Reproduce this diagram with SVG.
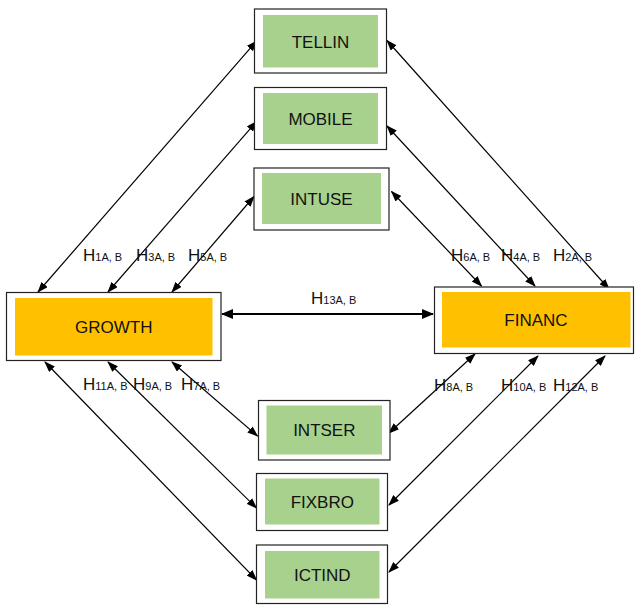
<svg xmlns="http://www.w3.org/2000/svg" width="635" height="605" viewBox="0 0 635 605">
<style>
.outer{fill:#fff;stroke:#222;stroke-width:1.2}
.green{fill:#A9D18E}
.orange{fill:#FFC000}
.nt{font-family:"Liberation Sans",Arial,sans-serif;font-size:17px;fill:#111;text-anchor:middle}
.lb{font-family:"Liberation Sans",Arial,sans-serif;font-size:17px;fill:#111}
.sb{font-size:11px}
.c{stroke:#000;stroke-width:1.2;fill:none;marker-start:url(#a);marker-end:url(#a)}
.c2{stroke:#000;stroke-width:2.2;fill:none;marker-start:url(#a2);marker-end:url(#a2)}
</style>
<defs>
<marker id="a" markerWidth="11" markerHeight="8" refX="10" refY="4" orient="auto-start-reverse" markerUnits="userSpaceOnUse"><path d="M0,0 L11,4 L0,8 Z" fill="#000"/></marker>
<marker id="a2" markerWidth="12" markerHeight="10" refX="11" refY="5" orient="auto-start-reverse" markerUnits="userSpaceOnUse"><path d="M0,0 L12,5 L0,10 Z" fill="#000"/></marker>
</defs>
<rect width="635" height="605" fill="#fff"/>
<g id="connectors">
<line class="c" x1="38" y1="292" x2="256.5" y2="41"/>
<line class="c" x1="108" y1="292" x2="256.5" y2="121.5"/>
<line class="c" x1="172" y1="292" x2="254" y2="196.5"/>
<line class="c" x1="481.5" y1="286" x2="391.5" y2="191.5"/>
<line class="c" x1="535" y1="286" x2="387" y2="126"/>
<line class="c" x1="609" y1="289" x2="387" y2="40.5"/>
<line class="c" x1="45" y1="362" x2="256.5" y2="580"/>
<line class="c" x1="108" y1="362" x2="256.5" y2="508"/>
<line class="c" x1="172" y1="362" x2="257.5" y2="436"/>
<line class="c" x1="475" y1="354" x2="389" y2="433"/>
<line class="c" x1="538" y1="356" x2="389" y2="505"/>
<line class="c" x1="605" y1="356" x2="389" y2="572"/>
<line class="c2" x1="222" y1="314" x2="433" y2="314"/>
</g>
<g id="labels">
<text class="lb" x="83" y="261">H<tspan class="sb">1A, B</tspan></text>
<text class="lb" x="136" y="261">H<tspan class="sb">3A, B</tspan></text>
<text class="lb" x="188" y="261">H<tspan class="sb">5A, B</tspan></text>
<text class="lb" x="451" y="261">H<tspan class="sb">6A, B</tspan></text>
<text class="lb" x="501" y="261">H<tspan class="sb">4A, B</tspan></text>
<text class="lb" x="553" y="261">H<tspan class="sb">2A, B</tspan></text>
<text class="lb" x="83" y="390">H<tspan class="sb">11A, B</tspan></text>
<text class="lb" x="133" y="390">H<tspan class="sb">9A, B</tspan></text>
<text class="lb" x="181" y="390">H<tspan class="sb">7A, B</tspan></text>
<text class="lb" x="434" y="391">H<tspan class="sb">8A, B</tspan></text>
<text class="lb" x="501" y="391">H<tspan class="sb">10A, B</tspan></text>
<text class="lb" x="553" y="391">H<tspan class="sb">12A, B</tspan></text>
<text class="lb" x="311" y="304">H<tspan class="sb">13A, B</tspan></text>
</g>
<g id="TELLIN">
<rect class="outer" x="254.5" y="9" width="132" height="64"/>
<rect class="green" x="263" y="15" width="115" height="52.5"/>
<text class="nt" x="320.5" y="47.5">TELLIN</text>
</g>
<g id="MOBILE">
<rect class="outer" x="254.5" y="87.5" width="132" height="62"/>
<rect class="green" x="263" y="93" width="115" height="51"/>
<text class="nt" x="320.5" y="124.5">MOBILE</text>
</g>
<g id="INTUSE">
<rect class="outer" x="254" y="168" width="135" height="62"/>
<rect class="green" x="262" y="173" width="119" height="51"/>
<text class="nt" x="321.5" y="205">INTUSE</text>
</g>
<g id="GROWTH">
<rect class="outer" x="6.5" y="292.5" width="214.5" height="68"/>
<rect class="orange" x="15" y="298" width="197.5" height="57.5"/>
<text class="nt" x="113.8" y="332.5">GROWTH</text>
</g>
<g id="FINANC">
<rect class="outer" x="434.5" y="287" width="199" height="66.5"/>
<rect class="orange" x="442" y="292" width="188.5" height="55.5"/>
<text class="nt" x="536" y="326">FINANC</text>
</g>
<g id="INTSER">
<rect class="outer" x="258.5" y="400.5" width="131.5" height="59.5"/>
<rect class="green" x="266.5" y="405.5" width="115.5" height="49"/>
<text class="nt" x="324.3" y="436">INTSER</text>
</g>
<g id="FIXBRO">
<rect class="outer" x="256.5" y="473.5" width="131" height="57"/>
<rect class="green" x="265" y="478.5" width="114.5" height="46"/>
<text class="nt" x="322.3" y="507.5">FIXBRO</text>
</g>
<g id="ICTIND">
<rect class="outer" x="256.5" y="545" width="131" height="58.5"/>
<rect class="green" x="265" y="551" width="114.5" height="47.5"/>
<text class="nt" x="322.3" y="581">ICTIND</text>
</g>
</svg>
